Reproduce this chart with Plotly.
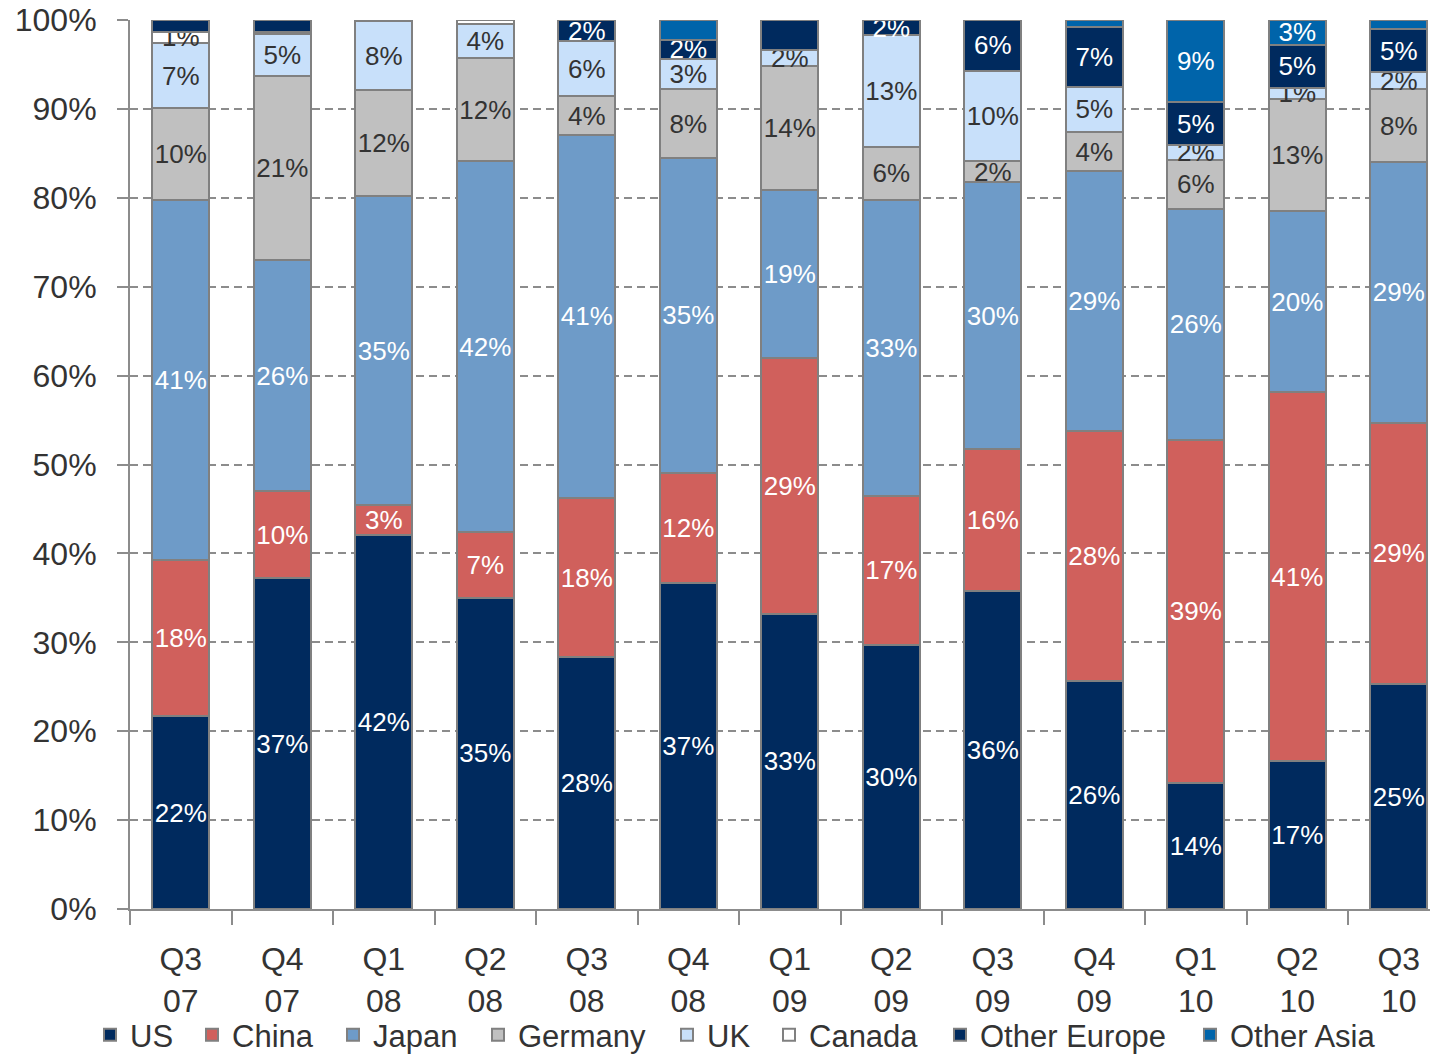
import plotly.graph_objects as go

categories = ["Q3<br>07", "Q4<br>07", "Q1<br>08", "Q2<br>08", "Q3<br>08", "Q4<br>08", "Q1<br>09",
              "Q2<br>09", "Q3<br>09", "Q4<br>09", "Q1<br>10", "Q2<br>10", "Q3<br>10"]

us = [21.7, 37.2, 42.1, 35.0, 28.3, 36.7, 33.2, 29.7, 35.8, 25.7, 14.2, 16.7, 25.3]
china = [17.6, 9.8, 3.3, 7.4, 17.9, 12.4, 28.8, 16.8, 15.9, 28.1, 38.6, 41.4, 29.4]
japan = [40.5, 26.0, 34.8, 41.7, 40.9, 35.4, 18.9, 33.3, 30.1, 29.2, 25.9, 20.4, 29.3]
germany = [10.3, 20.7, 11.9, 11.6, 4.3, 7.7, 13.9, 5.9, 2.3, 4.4, 5.6, 12.6, 8.2]
uk = [7.3, 4.7, 7.8, 3.9, 6.2, 3.4, 1.8, 12.6, 10.2, 5.1, 1.6, 1.3, 1.9]
canada = [1.3, 0.3, 0.0, 0.4, 0.0, 0.0, 0.0, 0.0, 0.0, 0.0, 0.0, 0.0, 0.0]
other_europe = [1.3, 1.3, 0.1, 0.0, 2.4, 2.2, 3.4, 1.7, 5.7, 6.7, 4.9, 4.8, 4.9]
other_asia = [0.0, 0.0, 0.0, 0.0, 0.0, 2.2, 0.0, 0.0, 0.0, 0.8, 9.2, 2.8, 1.0]

# segments whose labels are not printed in the original
hidden = {("Other Europe", 0), ("Other Europe", 1), ("Other Asia", 9), ("Other Asia", 12)}

series = [
    ("US", us, "#002A5E", "white"),
    ("China", china, "#D0605C", "white"),
    ("Japan", japan, "#6E9BC8", "white"),
    ("Germany", germany, "#C0C0C0", "#333333"),
    ("UK", uk, "#C8E0FA", "#333333"),
    ("Canada", canada, "#FFFFFF", "#333333"),
    ("Other Europe", other_europe, "#002A5E", "white"),
    ("Other Asia", other_asia, "#0064AA", "white"),
]

# layout: figure is 8px smaller than the window on each side (page body margin)
W, H = 1430, 1046
ML, MR, MT, MB = 122, 0, 12, 145
plot_w = W - ML - MR
plot_h = H - MT - MB
CAT_PX = 101.5  # pixel width of one category slot
x_max = -0.5 + plot_w / CAT_PX
legend_left_px = [82, 184, 325, 470, 659, 761, 932, 1182]
LEGEND_CY = 1027
FONT = "Liberation Sans, Arial, sans-serif"

fig = go.Figure()
legends = {}
for k, (name, vals, color, tcolor) in enumerate(series):
    texts = []
    for i, v in enumerate(vals):
        if v < 1.0 or (name, i) in hidden:
            texts.append("")
        else:
            texts.append(f"{int(v + 0.5)}%")
    lg = "legend" if k == 0 else f"legend{k + 1}"
    fig.add_trace(go.Bar(
        name=name, x=categories, y=vals,
        marker=dict(color=color, line=dict(color="#808080", width=2)),
        text=texts, textposition="inside", insidetextanchor="middle",
        textangle=0, constraintext="none",
        textfont=dict(color=tcolor, size=26, family=FONT),
        cliponaxis=False, legend=lg,
    ))
    legends[lg] = dict(
        xref="container", yref="container",
        x=legend_left_px[k] / W, xanchor="left",
        y=1 - LEGEND_CY / H, yanchor="middle",
        orientation="h", bgcolor="rgba(0,0,0,0)", borderwidth=0,
        font=dict(size=31, color="#333333", family=FONT), itemwidth=30,
    )

fig.update_layout(
    barmode="stack",
    bargap=0.44,
    width=W, height=H,
    margin=dict(l=ML, r=MR, t=MT, b=MB, autoexpand=False),
    paper_bgcolor="white", plot_bgcolor="white",
    font=dict(family=FONT, color="#333333", size=32),
    uniformtext=dict(minsize=26, mode="show"),
    showlegend=True,
    **legends,
)
fig.update_yaxes(
    range=[0, 100], tickvals=list(range(0, 101, 10)),
    ticktext=[f"{v}%" for v in range(0, 101, 10)],
    showgrid=True, gridcolor="#8C8C8C", griddash="8px,5px", gridwidth=1.5,
    showline=True, linecolor="#8C8C8C", linewidth=2,
    zeroline=False, ticks="outside", ticklen=11, tickcolor="#8C8C8C", tickwidth=2,
    ticklabelstandoff=14, ticklabeloverflow="allow",
    tickfont=dict(size=32, color="#333333"), automargin=False,
)
fig.update_xaxes(
    showline=True, linecolor="#8C8C8C", linewidth=2,
    ticks="outside", tickson="boundaries", ticklen=14, tickcolor="#8C8C8C", tickwidth=2,
    ticklabelstandoff=21, ticklabeloverflow="allow",
    tickfont=dict(size=32, color="#333333"),
    range=[-0.5, x_max], automargin=False,
)

fig.write_html("out.html")
